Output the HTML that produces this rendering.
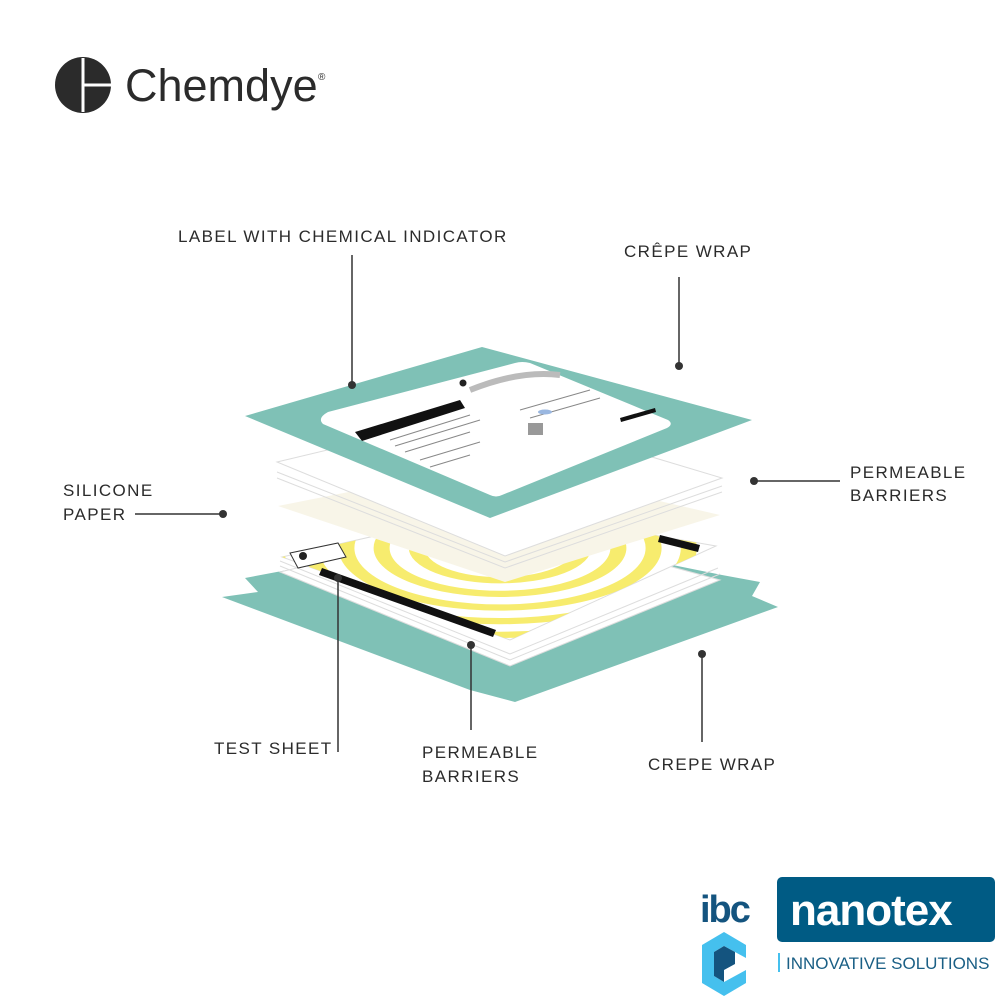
<!DOCTYPE html>
<html><head><meta charset="utf-8"><style>
body{margin:0;background:#fff;}
svg{display:block;font-family:"Liberation Sans",sans-serif;}
.lbl{font-size:17px;fill:#2b2b2b;letter-spacing:1.4px;}
</style></head><body>
<svg width="1000" height="1000" viewBox="0 0 1000 1000">
<defs>
<clipPath id="ts"><polygon points="282,557 498,508 716,546 510,640"/></clipPath>
</defs>
<circle cx="83" cy="85" r="28" fill="#2b2b2b"/>
<line x1="83" y1="58" x2="83" y2="112" stroke="#fff" stroke-width="3"/>
<line x1="83" y1="85" x2="111" y2="85" stroke="#fff" stroke-width="3"/>
<text x="125" y="101" font-size="45" fill="#2b2b2b">Chemdye</text>
<text x="318" y="80" font-size="10" fill="#2b2b2b">®</text>

<polygon points="222,597 258,592 245,578 500,530 722,575 760,582 752,596 778,607 515,702 470,690" fill="#7fc1b6"/>
<polygon points="280,572 500,520 720,580 510,666" fill="#fff" stroke="#ddd" stroke-width="1"/>
<polyline points="280,566 510,660 720,574" fill="none" stroke="#ddd"/>
<polyline points="280,561 510,654 718,568" fill="none" stroke="#ddd"/>
<polygon points="282,557 498,508 716,546 510,640" fill="#fff" stroke="#ddd"/>
<g clip-path="url(#ts)">
<g transform="translate(500,548) scale(1.6,0.62)" fill="none" stroke="#f7ec6e" stroke-width="10">
<circle r="30"/><circle r="52"/><circle r="74"/><circle r="96"/><circle r="118"/><circle r="140"/><circle r="162"/>
</g>
</g>
<polygon points="322,568 496,630 493,637 319,575" fill="#111"/>
<polygon points="660,535 700,545 698,552 658,542" fill="#111"/>
<polygon points="290,553 338,543 346,557 298,568" fill="#fff" stroke="#333" stroke-width="1"/>
<circle cx="303" cy="556" r="4" fill="#222"/>
<polygon points="278,506 495,463 720,515 505,582" fill="#f8f5e8"/>
<polyline points="277,478 505,568 722,492" fill="none" stroke="#ddd"/>
<polyline points="277,472 505,562 722,486" fill="none" stroke="#ddd"/>
<polygon points="277,462 495,410 722,478 505,556" fill="#fff" stroke="#ddd"/>
<polygon points="245,416 482,347 752,420 490,518" fill="#7fc1b6"/>
<path d="M328,412 L515,363 Q522,361 530,363 L668,420 Q674,424 667,428 L502,495 Q496,498 490,495 L323,424 Q317,418 328,412 Z" fill="#fff"/>
<polygon points="355,432 460,400 465,408 362,441" fill="#111"/>
<polygon points="620,418 655,408 656,412 621,422" fill="#111"/>
<g stroke="#888" stroke-width="1">
<line x1="390" y1="440" x2="470" y2="415"/><line x1="395" y1="446" x2="480" y2="420"/>
<line x1="405" y1="452" x2="470" y2="432"/><line x1="420" y1="460" x2="480" y2="442"/>
<line x1="430" y1="467" x2="470" y2="455"/>
<line x1="520" y1="410" x2="590" y2="390"/><line x1="530" y1="418" x2="600" y2="398"/>
</g>
<path d="M470,390 Q520,370 560,375" stroke="#bbb" stroke-width="6" fill="none"/>
<circle cx="463" cy="383" r="3.5" fill="#222"/>
<rect x="528" y="423" width="15" height="12" fill="#999"/>
<ellipse cx="545" cy="412" rx="7" ry="2.5" fill="#9ab7e0"/>

<g stroke="#333" stroke-width="1.5" fill="none">
<line x1="352" y1="255" x2="352" y2="385"/>
<line x1="679" y1="277" x2="679" y2="366"/>
<line x1="754" y1="481" x2="840" y2="481"/>
<line x1="135" y1="514" x2="223" y2="514"/>
<line x1="338" y1="578" x2="338" y2="752"/>
<line x1="471" y1="645" x2="471" y2="730"/>
<line x1="702" y1="654" x2="702" y2="742"/>
</g>
<g fill="#333">
<circle cx="352" cy="385" r="4"/><circle cx="679" cy="366" r="4"/><circle cx="754" cy="481" r="4"/>
<circle cx="223" cy="514" r="4"/><circle cx="338" cy="578" r="4"/><circle cx="471" cy="645" r="4"/><circle cx="702" cy="654" r="4"/>
</g>
<text class="lbl" x="178" y="242">LABEL WITH CHEMICAL INDICATOR</text>
<text class="lbl" x="624" y="257">CRÊPE WRAP</text>
<text class="lbl" x="850" y="478">PERMEABLE</text>
<text class="lbl" x="850" y="501">BARRIERS</text>
<text class="lbl" x="63" y="496">SILICONE</text>
<text class="lbl" x="63" y="520">PAPER</text>
<text class="lbl" x="214" y="754">TEST SHEET</text>
<text class="lbl" x="422" y="758">PERMEABLE</text>
<text class="lbl" x="422" y="782">BARRIERS</text>
<text class="lbl" x="648" y="770">CREPE WRAP</text>

<text x="700" y="922" font-size="38" font-weight="bold" fill="#14547f" letter-spacing="-2">ibc</text>
<rect x="777" y="877" width="218" height="65" rx="5" fill="#005b84"/>
<text x="790" y="925" font-size="44" font-weight="bold" fill="#fff" letter-spacing="-1">nanotex</text>
<rect x="778" y="953" width="2" height="19" fill="#45c0ee"/>
<text x="786" y="969" font-size="17" fill="#1a5f85">INNOVATIVE SOLUTIONS</text>
<polygon points="724,932 746,945 746,958 724,946 714,952 714,976 724,982 746,970 746,983 724,996 702,983 702,945" fill="#45c0ee"/>
<polygon points="714,952 724,946 735,952 735,964 724,970 724,982 714,976" fill="#14547f"/>
</svg>
</body></html>
